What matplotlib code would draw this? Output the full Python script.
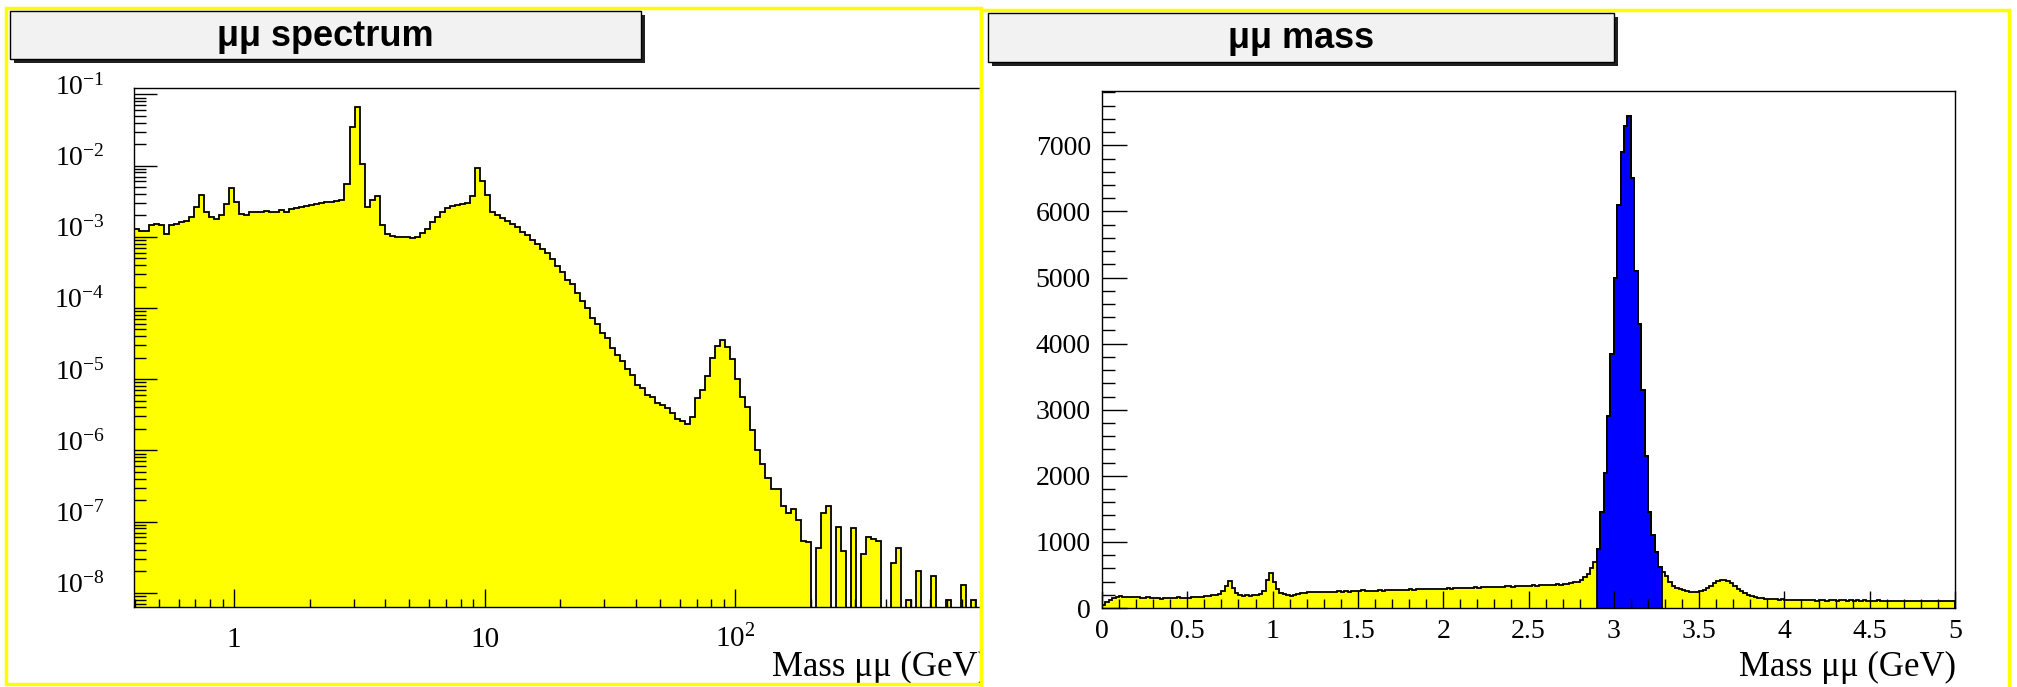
import numpy as np
import matplotlib
matplotlib.use("Agg")
import matplotlib.pyplot as plt
from matplotlib.patches import Rectangle
from matplotlib.ticker import (FixedLocator, FixedFormatter, LogLocator,
                               MultipleLocator, NullFormatter, FuncFormatter)

plt.rcParams["font.family"] = ["Liberation Serif", "DejaVu Serif"]
plt.rcParams["mathtext.fontset"] = "custom"
plt.rcParams["mathtext.rm"] = "Liberation Serif"
plt.rcParams["mathtext.it"] = "Liberation Serif:italic"
plt.rcParams["mathtext.bf"] = "Liberation Serif:bold"

YELLOW = "#ffff00"
BLUE = "#0000ff"

# --- dimuon spectrum, log bins of 0.02 decades from 10^-0.4 to 10^3 GeV ---
log_lo, log_hi, n_log_bins = -0.4, 3.0, 170
spectrum = [
    1.29e-3, 1.22e-3, 1.2e-3, 1.45e-3, 1.52e-3, 1.45e-3, 1.1e-3, 1.45e-3, 1.5e-3, 1.6e-3,
    1.65e-3, 1.9e-3, 2.6e-3, 3.9e-3, 2.2e-3, 1.9e-3, 1.8e-3, 2.0e-3, 2.9e-3, 4.8e-3,
    3.1e-3, 2.1e-3, 2.0e-3, 2.2e-3, 2.25e-3, 2.25e-3, 2.3e-3, 2.2e-3, 2.2e-3, 2.35e-3,
    2.25e-3, 2.45e-3, 2.55e-3, 2.6e-3, 2.7e-3, 2.8e-3, 2.9e-3, 3.0e-3, 3.05e-3, 3.1e-3,
    3.2e-3, 3.3e-3, 5.5e-3, 3.5e-2, 6.6e-2, 1.06e-2, 2.6e-3, 3.3e-3, 3.7e-3, 1.45e-3,
    1.1e-3, 1.03e-3, 1.0e-3, 0.98e-3, 1.0e-3, 0.97e-3, 1.0e-3, 1.13e-3, 1.3e-3, 1.6e-3,
    1.9e-3, 2.25e-3, 2.5e-3, 2.7e-3, 2.8e-3, 2.9e-3, 3.0e-3, 3.7e-3, 9.3e-3, 6.1e-3,
    3.9e-3, 2.25e-3, 2.0e-3, 1.85e-3, 1.65e-3, 1.5e-3, 1.35e-3, 1.17e-3, 1.05e-3, 9.0e-4,
    7.9e-4, 6.8e-4, 5.9e-4, 4.8e-4, 3.9e-4, 3.15e-4, 2.5e-4, 2.2e-4, 1.6e-4, 1.27e-4,
    1.0e-4, 7.3e-5, 5.9e-5, 4.5e-5, 3.8e-5, 2.75e-5, 2.2e-5, 1.78e-5, 1.4e-5, 1.15e-5,
    8.4e-6, 7.6e-6, 6.0e-6, 5.7e-6, 4.6e-6, 4.3e-6, 3.9e-6, 3.3e-6, 2.8e-6, 2.6e-6,
    2.35e-6, 2.95e-6, 5.5e-6, 7.1e-6, 1.1e-5, 2.0e-5, 2.9e-5, 3.6e-5, 2.8e-5, 1.9e-5,
    1.0e-5, 5.7e-6, 4.1e-6, 1.9e-6, 1.0e-6, 6.4e-7, 4.1e-7, 2.9e-7, 2.9e-7, 1.65e-7,
    1.3e-7, 1.5e-7, 1.05e-7, 5.4e-8, 5.1e-8, 0, 4.2e-8, 1.3e-7, 1.65e-7, 0,
    8.4e-8, 3.9e-8, 0, 8e-8, 0, 3.5e-8, 6e-8, 5.7e-8, 5.4e-8, 0,
    0, 2.6e-8, 4.2e-8, 0, 8e-9, 0, 2e-8, 0, 0, 1.7e-8,
    0, 0, 8e-9, 0, 0, 1.3e-8, 0, 8e-9, 0, 0,
]
spectrum_xticks = [1, 10, 100]
spectrum_xlabels = ["1", "10", "$10^{2}$"]
spectrum_yticks = [1e-8, 1e-7, 1e-6, 1e-5, 1e-4, 1e-3, 1e-2, 1e-1]
spectrum_ylabels = ["$10^{-8}$", "$10^{-7}$", "$10^{-6}$", "$10^{-5}$",
                    "$10^{-4}$", "$10^{-3}$", "$10^{-2}$", "$10^{-1}$"]

# --- dimuon mass 0-5 GeV, 20 MeV bins ---
mass_lo, mass_hi, n_mass_bins = 0.0, 5.0, 250
counts_0_05 = [40, 90, 120, 145, 165, 175, 165, 160, 170, 160, 160, 155, 150,
               160, 150, 145, 150, 140, 150, 145, 150, 145, 160, 150, 155]
counts_05_10 = [150, 165, 160, 170, 165, 175, 180, 190, 195, 215, 260, 330, 410,
                300, 220, 195, 185, 190, 185, 190, 195, 210, 260, 420, 530]
counts_10_15 = [400, 280, 230, 210, 195, 185, 190, 205, 220, 230, 235, 238, 240,
                245, 240, 245, 240, 248, 245, 250, 245, 250, 248, 250, 252]
counts_15_20 = [255, 265, 250, 260, 262, 258, 265, 262, 268, 270, 265, 272, 268,
                275, 270, 280, 275, 285, 280, 290, 285, 290, 282, 295, 290]
counts_20_25 = [295, 300, 290, 305, 300, 305, 300, 310, 305, 315, 310, 318, 312,
                320, 325, 315, 325, 320, 330, 335, 325, 330, 338, 330, 340]
counts_25_30 = [335, 345, 340, 350, 342, 350, 345, 355, 360, 352, 365, 370, 380,
                390, 400, 430, 470, 520, 600, 700, 900, 1450, 2050, 2900, 3850]
counts_30_35 = [5000, 6100, 6900, 7300, 7450, 6500, 5100, 4300, 3300, 2300, 1450, 1100, 850,
                620, 550, 480, 400, 330, 300, 280, 265, 250, 240, 235, 240]
counts_35_40 = [250, 270, 300, 340, 380, 410, 425, 430, 410, 380, 330, 290, 250,
                220, 200, 180, 165, 150, 145, 140, 135, 130, 135, 128, 130]
counts_40_45 = [125, 120, 128, 118, 122, 120, 115, 122, 118, 112, 118, 120, 110,
                115, 120, 112, 118, 115, 108, 115, 110, 115, 112, 118, 110]
counts_45_50 = [112, 108, 115, 110, 112, 108, 112, 110, 105, 112, 110, 108, 112,
                105, 110, 108, 105, 110, 108, 104, 106, 110, 104, 108, 105]
jpsi_window = (2.90, 3.28)

W, H = 2017, 687
fig = plt.figure(figsize=(W / 100, H / 100), dpi=100)
fig.patch.set_facecolor("white")


def frac(x0, y0, x1, y1):
    """pixel box (top-left origin) -> figure fraction [l, b, w, h]"""
    return [x0 / W, 1 - y1 / H, (x1 - x0) / W, (y1 - y0) / H]


def rect(x0, y0, x1, y1, **kw):
    l, b, w, h = frac(x0, y0, x1, y1)
    return Rectangle((l, b), w, h, transform=fig.transFigure, **kw)


def title_box(x0, y0, x1, y1, text):
    fig.add_artist(rect(x0 + 4, y0 + 4, x1 + 4, y1 + 4, facecolor="#202020",
                        edgecolor="none", zorder=2))
    fig.add_artist(rect(x0, y0, x1, y1, facecolor="#f2f2f2", edgecolor="black",
                        lw=1.0, zorder=2.1))
    fig.text((x0 + x1) / 2 / W, 1 - (y0 + y1 + 2) / 2 / H, text, ha="center",
             va="center", fontsize=26, fontweight="bold",
             family=["Liberation Sans", "DejaVu Sans"], zorder=3)


# ---------------- left: log-log spectrum ----------------
axL = fig.add_axes(frac(134, 88, 981, 607))
edges_l = np.logspace(log_lo, log_hi, n_log_bins + 1)
floor = 1e-12
spec = np.array(spectrum)
spec_drawn = np.where(spec > 0, spec, floor)
axL.stairs(spec_drawn, edges_l, baseline=floor, fill=True, color=YELLOW, lw=0)
axL.stairs(spec_drawn, edges_l, baseline=floor, color="black", lw=1.3)
axL.set_xscale("log")
axL.set_yscale("log")
axL.set_xlim(10 ** log_lo, 955)
axL.set_ylim(6.3e-9, 0.123)

axL.xaxis.set_major_locator(FixedLocator(spectrum_xticks))
axL.xaxis.set_major_formatter(FixedFormatter(spectrum_xlabels))
axL.xaxis.set_minor_locator(LogLocator(base=10, subs=np.arange(2, 10), numticks=30))
axL.xaxis.set_minor_formatter(NullFormatter())
axL.yaxis.set_major_locator(FixedLocator(spectrum_yticks))
axL.yaxis.set_major_formatter(FixedFormatter(spectrum_ylabels))
axL.yaxis.set_minor_locator(LogLocator(base=10, subs=np.arange(2, 10), numticks=30))
axL.yaxis.set_minor_formatter(NullFormatter())

axL.tick_params(which="both", direction="in", top=False, right=False, width=1.0)
axL.tick_params(axis="y", which="major", length=16.5, pad=21, labelsize=20)
axL.tick_params(axis="y", which="minor", length=8.6)
axL.tick_params(axis="x", which="major", length=13, pad=29, labelsize=21)
axL.tick_params(axis="x", which="minor", length=6)
for lab in axL.get_yticklabels() + axL.get_xticklabels():
    lab.set_verticalalignment("baseline")
for s in axL.spines.values():
    s.set_linewidth(1.0)

# ---------------- right: linear mass histogram ----------------
edges_r = np.linspace(mass_lo, mass_hi, n_mass_bins + 1)
counts = np.array(counts_0_05 + counts_05_10 + counts_10_15 + counts_15_20 +
                  counts_20_25 + counts_25_30 + counts_30_35 + counts_35_40 +
                  counts_40_45 + counts_45_50, dtype=float)
sel = (edges_r[:-1] >= jpsi_window[0] - 1e-9) & (edges_r[1:] <= jpsi_window[1] + 1e-9)
i0, i1 = np.flatnonzero(sel)[[0, -1]]

# white backdrop of the right pad hides anything of the left pad spilling over
fig.add_artist(rect(981, 10, 2009, 690, facecolor="white", edgecolor=YELLOW,
                    lw=2.5, zorder=0.5))
fig.add_artist(rect(6, 8, 981, 684, facecolor="none", edgecolor=YELLOW,
                    lw=2.5, zorder=0.6))

axR = fig.add_axes(frac(1102, 91, 1955, 608))
axR.set_zorder(1)
axR.stairs(counts, edges_r, baseline=0, fill=True, color=YELLOW, lw=0)
axR.stairs(counts[i0:i1 + 1], edges_r[i0:i1 + 2], baseline=0, fill=True,
           facecolor=BLUE, edgecolor="black", lw=1.3)
axR.stairs(counts, edges_r, baseline=0, color="black", lw=1.3)
axR.set_xlim(mass_lo, mass_hi)
axR.set_ylim(0, 1.05 * counts.max())

axR.xaxis.set_major_locator(MultipleLocator(0.5))
axR.xaxis.set_minor_locator(MultipleLocator(0.1))
axR.xaxis.set_major_formatter(FuncFormatter(lambda v, p: f"{v:g}"))
axR.yaxis.set_major_locator(MultipleLocator(1000))
axR.yaxis.set_minor_locator(MultipleLocator(200))
axR.yaxis.set_major_formatter(FuncFormatter(lambda v, p: f"{v:.0f}"))
axR.tick_params(which="both", direction="in", top=False, right=False, width=1.0)
axR.tick_params(axis="y", which="major", length=18, pad=8, labelsize=20)
axR.tick_params(axis="y", which="minor", length=9)
axR.tick_params(axis="x", which="major", length=12.5, pad=21.5, labelsize=20)
axR.tick_params(axis="x", which="minor", length=6.5)
for lab in axR.get_xticklabels():
    lab.set_verticalalignment("baseline")
for s in axR.spines.values():
    s.set_linewidth(1.0)

# axis titles, right-aligned to the end of each axis
fig.text(989 / W, 1 - 676 / H, "Mass μμ (GeV)", ha="right", va="baseline",
         fontsize=25, zorder=0.2)
fig.text(1956 / W, 1 - 676 / H, "Mass μμ (GeV)", ha="right", va="baseline",
         fontsize=25, zorder=3)

title_box(10, 11, 641, 59, "μμ spectrum")
title_box(988, 13, 1614, 62, "μμ mass")

fig.savefig("out.png", dpi=100, facecolor="white")
